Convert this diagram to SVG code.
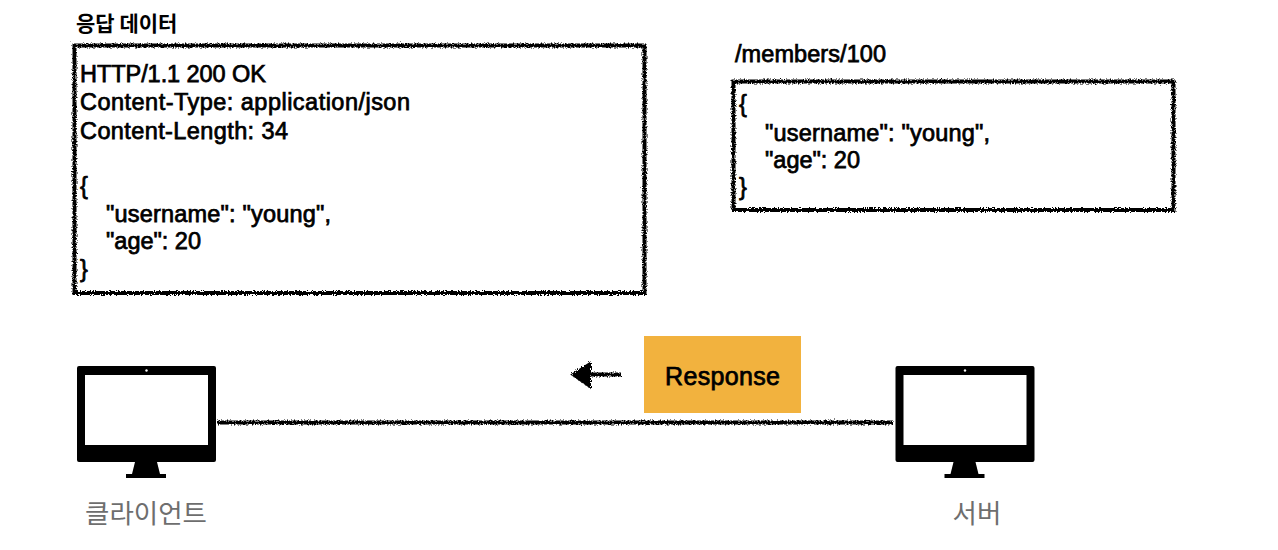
<svg xmlns="http://www.w3.org/2000/svg" width="1278" height="550" viewBox="0 0 1278 550">
<style>
text{font-family:"Liberation Sans","Noto Sans CJK KR",sans-serif}
.t{font-size:23.5px;fill:#000;stroke:#000;stroke-width:.75px}
.h{font-size:21px;font-family:"Noto Sans CJK KR",sans-serif;font-weight:700;fill:#000}
.l{font-size:26.500px;fill:#6e6e6e;text-anchor:middle;font-family:"Noto Sans CJK KR",sans-serif}
.box{fill:none;stroke:#000;stroke-width:4;filter:url(#rough)}
.ln{fill:none;stroke:#000;stroke-width:4;filter:url(#rough)}
</style>
<defs>
<filter id="rough" x="0" y="0" width="1278" height="550" filterUnits="userSpaceOnUse">
<feTurbulence type="fractalNoise" baseFrequency="0.7" numOctaves="2" seed="3"/>
<feDisplacementMap in="SourceGraphic" scale="4.500"/>
</filter>
<g id="monitor">
<path fill-rule="evenodd" d="M2 0H137a2 2 0 0 1 2 2V94a2 2 0 0 1-2 2H2a2 2 0 0 1-2-2V2a2 2 0 0 1 2-2ZM8 9V79H131V9Z"/>
<path d="M58 96H80L83 108H89V112H49V108H55Z"/>
<circle cx="69.500" cy="4.500" r="1.200" fill="#fff"/>
</g>
</defs>
<g id="connectors">
<path class="ln" d="M217 422.500H893"/>
<path class="ln" d="M621 374.500H590"/>
<path d="M572 374.500L590 363V387Z" stroke="#000" stroke-width="2" filter="url(#rough)"/>
</g>
<g id="response-data">
<text class="h" x="76" y="31">응답 데이터</text>
<rect class="box" x="74.500" y="45.500" width="570" height="247.500"/>
<text class="t" x="80" y="82" textLength="186">HTTP/1.1 200 OK</text>
<text class="t" x="80" y="110" textLength="330">Content-Type: application/json</text>
<text class="t" x="80" y="139" textLength="208">Content-Length: 34</text>
<text class="t" x="80" y="194">{</text>
<text class="t" x="106" y="222" textLength="225">"username": "young",</text>
<text class="t" x="106" y="249" textLength="95">"age": 20</text>
<text class="t" x="80" y="277">}</text>
</g>
<g id="member-resource">
<text class="t" x="735" y="62" textLength="151">/members/100</text>
<rect class="box" x="733.500" y="81.500" width="440" height="128.500"/>
<text class="t" x="739" y="112">{</text>
<text class="t" x="765" y="141" textLength="225">"username": "young",</text>
<text class="t" x="765" y="168" textLength="95">"age": 20</text>
<text class="t" x="739" y="195">}</text>
</g>
<g id="response">
<rect x="644" y="336" width="157" height="77" fill="#f2b23e"/>
<text class="t" x="665" y="385" textLength="115" style="font-size:25px">Response</text>
</g>
<g id="client">
<use href="#monitor" x="77" y="366"/>
<text class="l" x="146" y="523">클라이언트</text>
</g>
<g id="server">
<use href="#monitor" x="895.500" y="366"/>
<text class="l" x="977" y="523">서버</text>
</g>
</svg>
